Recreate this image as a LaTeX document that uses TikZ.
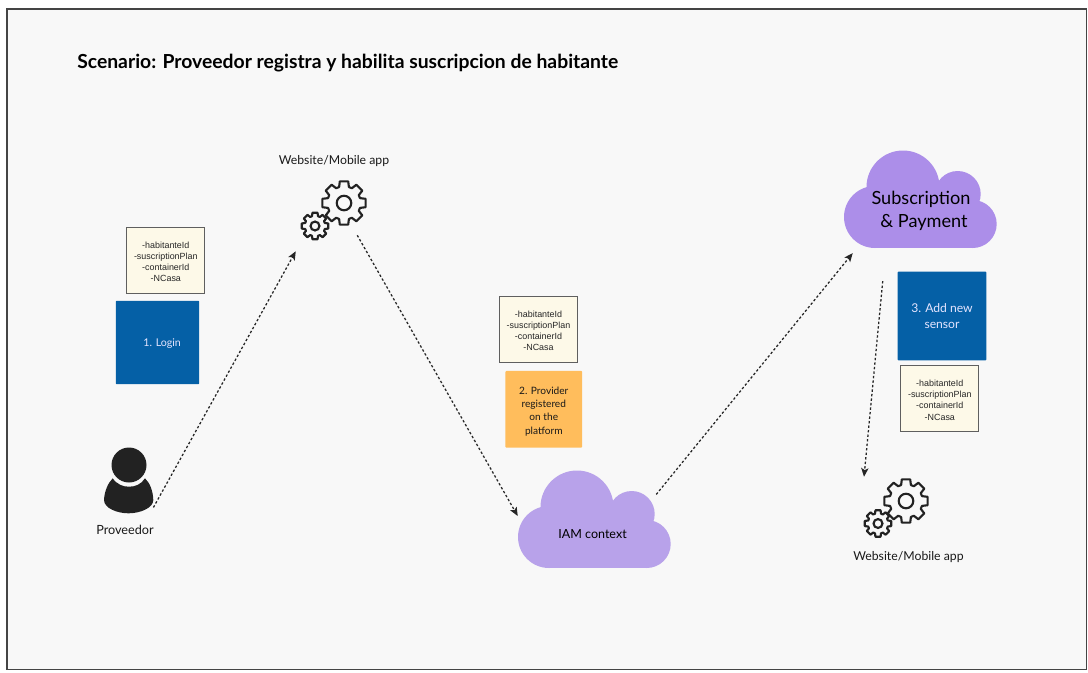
\documentclass[tikz,border=0pt]{standalone}
\usepackage{fontspec}
\setmainfont{Lato}
\newfontfamily\notefont{Liberation Sans}
\usetikzlibrary{positioning,calc,arrows.meta}
\definecolor{pagebg}{HTML}{F8F8F8}
\definecolor{framegray}{HTML}{444444}
\definecolor{notefill}{HTML}{FDF9E8}
\definecolor{notedraw}{HTML}{5F5F5F}
\definecolor{loginblue}{HTML}{0560A6}
\definecolor{stickyorange}{HTML}{FFBD5C}
\definecolor{iamviolet}{HTML}{B8A2EA}
\definecolor{subviolet}{HTML}{AC8EE9}
\definecolor{inkgray}{HTML}{222222}
\newcommand{\notefields}{\rule{0pt}{6.8pt}-habitanteId\\-suscriptionPlan\\-containerId\\-NCasa}
\tikzset{
	notebox/.style={fill=notefill,draw=notedraw,line width=0.75pt,minimum width=58.5pt,minimum height=49.5pt,inner sep=0pt,align=center,font=\notefont\fontsize{6.7}{8.4}\selectfont,text=black!85},
	stepbox/.style={fill=#1,minimum width=62.5pt,minimum height=62.5pt,inner sep=0pt,align=center,rounded corners=0.6pt,font=\fontsize{8}{11.5}\selectfont},
	caption/.style={inner sep=0pt,font=\fontsize{9.2}{11}\selectfont,text=black!90},
	flow/.style={dash pattern=on 1.8pt off 1.6pt,line width=0.95pt,-{Stealth[length=6.5pt,width=5.5pt,inset=1.5pt]},black!85},
	cloudbox/.style={minimum width=114.75pt,minimum height=74pt,inner sep=0pt},
	gearbox/.style={minimum width=48pt,minimum height=48pt,inner sep=0pt},
	pics/gear/.style={code={
		\draw[inkgray,line width=1.6pt,line join=round]
			(-17:#1*0.76) \foreach \a in {0,45,...,315}{
				-- (\a-17:#1*0.76) -- (\a-11:#1) -- (\a+11:#1) -- (\a+17:#1*0.76) -- (\a+28:#1*0.76)
			} -- cycle;
		\draw[inkgray,line width=1.6pt] (0,0) circle[radius=#1*0.33];
	}},
	pics/cloudshape/.style={code={
		\fill[#1] (31,-31) circle[radius=31];
		\fill[#1] (59,-61) circle[radius=36.5];
		\fill[#1] (113.7,-54) circle[radius=23];
		\fill[#1] (128.7,-24) circle[radius=24];
		\fill[#1] (31,0) rectangle (128.7,-40);
		\fill[#1] (40,-30) rectangle (113,-61);
	}},
}
\begin{document}
\begin{tikzpicture}[x=0.75pt,y=-0.75pt]
	\useasboundingbox (0,0) rectangle (1088,672);
	\fill[white] (0,0) rectangle (1088,672);
	\draw[fill=pagebg,draw=framegray,line width=0.9pt] (7,9) rectangle (1086.5,669.5);
	\node[anchor=west,inner sep=0pt,font=\bfseries\fontsize{14.5}{17}\selectfont] (title) at (77,63) {Scenario: Proveedor registra y habilita suscripcion de habitante};

	% user on the left
	\node[minimum width=37pt,minimum height=49pt,inner sep=0pt] (proveedor) at (128.5,480.5) {};
	\fill[inkgray] (104,500) .. controls (104.5,491) and (108,483) .. (112.7,478.3) .. controls (117,484.5) and (123,486.7) .. (129,486.7) .. controls (135,486.7) and (141,484.5) .. (145,478.3) .. controls (150,483) and (153,491) .. (153.3,500) .. controls (153.3,508) and (140,513.3) .. (128.5,513.3) .. controls (117,513.3) and (104,508) .. (104,500) -- cycle;
	\fill[inkgray] (129,465) circle[radius=17.5];
	\node[caption,font=\fontsize{9.5}{11}\selectfont] (proveedortxt) at (125,530) {Proveedor};

	\node[notebox] (note1) at (165.8,260.5) {\notefields};
	\node[stepbox=loginblue,text=white!90!blue] (login) at (157.5,342.5) {\rule{0pt}{7.5pt}\hspace{7pt}1. Login};

	% first gears
	\node[gearbox] (gears1) at (332,214) {};
	\pic at (344,203) {gear=22};
	\pic at (315,226) {gear=13.5};
	\node[caption] (gears1txt) at (334,161) {Website/Mobile app};

	% IAM
	\pic at (518,568) {cloudshape=iamviolet};
	\node[cloudbox] (iam) at (594.5,519) {};
	\node[inner sep=0pt,font=\fontsize{9.4}{12}\selectfont] (iamtxt) at (592.5,534) {IAM context};
	\node[notebox] (note2) at (538.5,329.5) {\notefields};
	\node[stepbox=stickyorange,minimum width=57.5pt,minimum height=57.5pt,text=black!90,font=\fontsize{7.6}{9.8}\selectfont] (provider) at (543.8,409.3) {\rule{0pt}{9pt}2. Provider\\registered\\on the\\platform};

	% subscription
	\pic at (844,248) {cloudshape=subviolet};
	\node[cloudbox] (subs) at (920,198.5) {};
	\node[inner sep=0pt,align=center,font=\fontsize{13.6}{17.2}\selectfont] (substxt) at (921,210.5) {Subscription\\\hspace{4.5pt}\& Payment};
	\node[stepbox=loginblue,minimum width=66.5pt,minimum height=66.5pt,text=white!90!blue,font=\fontsize{9.1}{11.5}\selectfont] (sensor) at (942,316) {3. Add new\\sensor};
	\node[notebox] (note3) at (939.8,398.7) {\notefields};

	% second gears
	\node[gearbox] (gears2) at (894,512) {};
	\pic at (906,501) {gear=22};
	\pic at (878,523.5) {gear=13.5};
	\node[caption] (gears2txt) at (908.5,557) {Website/Mobile app};

	% arrows
	\draw[flow] ([shift={(0,-6)}]proveedor.south east) -- ([shift={(-4,5)}]gears1.south west);
	\draw[flow] ([shift={(-7,-11)}]gears1.south east) -- ([shift={(0,-3)}]iam.west);
	\draw[flow] ([shift={(-15,25)}]iam.north east) -- ([shift={(9.5,5)}]subs.south west);
	\draw[flow] ([shift={(39.5,33)}]subs.south west) -- ([shift={(-30,-3)}]gears2.north);
\end{tikzpicture}
\end{document}
